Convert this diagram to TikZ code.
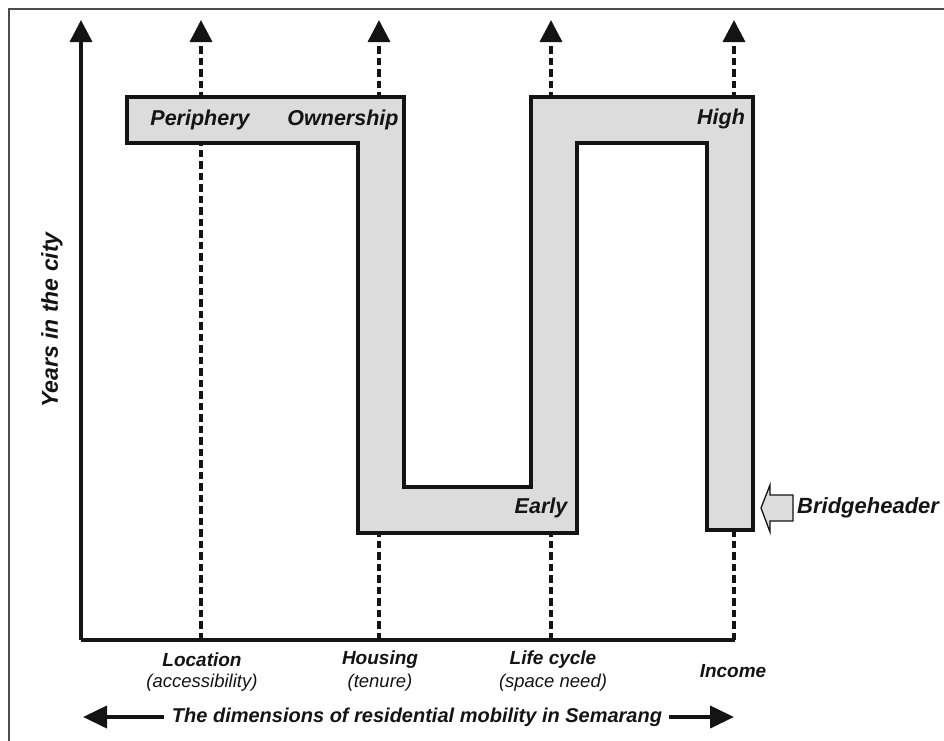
\documentclass[tikz,border=0pt]{standalone}
\usepackage{fontspec}
\setmainfont{Liberation Sans}
\usetikzlibrary{arrows.meta}
\definecolor{band}{HTML}{DCDCDC}
\definecolor{ink}{HTML}{141414}
\tikzset{
  axisline/.style={line width=3.5pt, draw=ink},
  axisarrow/.style={line width=3.5pt, draw=ink, -{Triangle[length=22pt,width=22pt]}},
  dasharrow/.style={line width=3.5pt, draw=ink, dash pattern=on 7.5pt off 4pt, -{Triangle[length=22pt,width=22pt]}},
  bandshape/.style={fill=band, draw=ink, line width=3.8pt, miter limit=10},
  bandlabel/.style={font=\fontsize{21.5}{24}\selectfont\bfseries\itshape, text=ink, inner sep=0pt},
  dimlabel/.style={font=\fontsize{19}{21}\selectfont\bfseries\itshape, text=ink, inner sep=0pt},
  sublabel/.style={font=\fontsize{18.5}{21}\selectfont\itshape, text=ink, inner sep=0pt},
  framestyle/.style={line width=2pt, draw=black!70},
  blockarrow/.style={fill=band, draw=ink, line width=1.3pt, line join=miter},
  wide/.style={line width=4pt, draw=ink, -{Triangle[length=24pt,width=22pt]}}
}
\begin{document}
\begin{tikzpicture}[x=1pt,y=-1pt]
\useasboundingbox (0,0) rectangle (944,740);
% frame
\coordinate (fbl) at (9,745);
\coordinate (ftl) at (9,9);
\coordinate (ftr) at (950,9);
\draw[framestyle] (fbl) -- (ftl) -- (ftr);
% axes
\coordinate (o) at (81,640);
\coordinate (ytop) at (81,20);
\coordinate (xend) at (735,640);
\draw[axisarrow] (o) -- (ytop);
\draw[axisline] (o) -- (xend);
% dashed dimension lines
\foreach \n/\x in {a/201,b/379,c/551,d/734}{
  \coordinate (b\n) at (\x,640);
  \coordinate (t\n) at (\x,20);
  \draw[dasharrow] (b\n) -- (t\n);
}
% band
\draw[bandshape] (127,97) -- (404,97) -- (404,487) -- (531,487) -- (531,97)
  -- (753,97) -- (753,530) -- (707,530) -- (707,143) -- (577,143)
  -- (577,533) -- (358,533) -- (358,143) -- (127,143) -- cycle;
\node[bandlabel] (periphery) at (200,120) {Periphery};
\node[bandlabel] (ownership) at (343,120) {Ownership};
\node[bandlabel] (high) at (721,119) {High};
\node[bandlabel] (early) at (541,508) {Early};
% bridgeheader arrow
\draw[blockarrow] (761,508) -- (770,485) -- (770,495) -- (793,495) -- (793,521)
  -- (770,521) -- (770,532) -- cycle;
\node[bandlabel, font=\fontsize{22}{25}\selectfont\bfseries\itshape, anchor=west] (bridge) at (797,508) {Bridgeheader};
% y label
\node[bandlabel, font=\fontsize{23}{26}\selectfont\bfseries\itshape, rotate=90] (years) at (52,320) {Years in the city};
% bottom labels
\node[dimlabel] (location) at (202,660) {Location};
\node[sublabel] (access) at (202,683) {(accessibility)};
\node[dimlabel] (housing) at (380,660) {Housing};
\node[sublabel] (tenure) at (380,683) {(tenure)};
\node[dimlabel] (life) at (553,660) {Life cycle};
\node[sublabel] (space) at (553,683) {(space need)};
\node[dimlabel] (income) at (733,671) {Income};
% bottom double arrow
\node[dimlabel, font=\fontsize{20}{23}\selectfont\bfseries\itshape, inner sep=0pt] (dims) at (417,717) {The dimensions of residential mobility in Semarang};
\coordinate (lt) at (83,717);
\coordinate (rt) at (734,717);
\draw[wide] ([xshift=-8pt]dims.west) -- (lt);
\draw[wide] ([xshift=7pt]dims.east) -- (rt);
\end{tikzpicture}
\end{document}
